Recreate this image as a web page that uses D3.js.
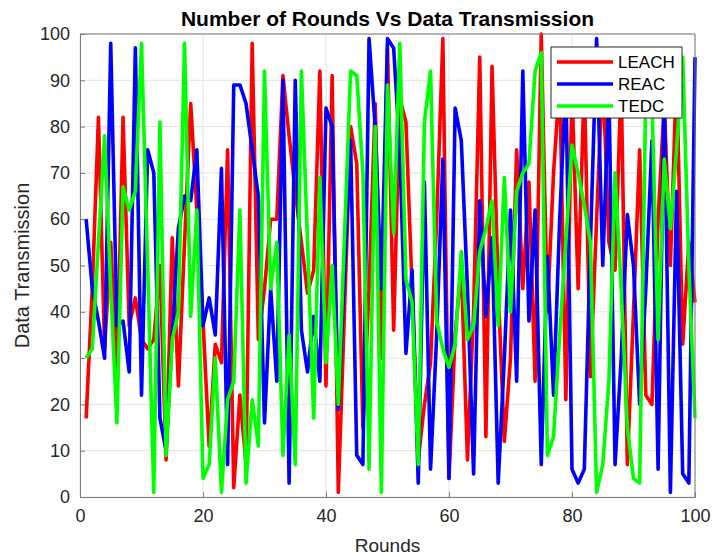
<!DOCTYPE html>
<html>
<head>
<meta charset="utf-8">
<script src="https://cdn.jsdelivr.net/npm/d3@7"></script>
<style>
  html, body { margin: 0; padding: 0; background: #fff; }
  svg { display: block; font-family: Arial, "Liberation Sans", sans-serif; }
</style>
</head>
<body>
<svg id="chart" width="713" height="556"></svg>
<script>
// values, one per round (rounds 1..100)
const leach = [17, 45, 82, 32, 55, 25, 82, 37, 43, 34, 32, 34, 50, 8, 56, 24, 55, 85, 62, 38,
  11, 33, 29, 75, 2, 22, 7, 98, 34, 45, 60, 60, 91, 78, 66, 55, 44, 49, 92, 24,
  91, 1, 40, 80, 72, 15, 45, 85, 30, 97, 36, 86, 81, 45, 8, 20, 29, 60, 99, 4,
  35, 50, 8, 40, 95, 13, 93, 45, 12, 30, 75, 45, 68, 25, 100, 40, 70, 90, 21, 88,
  45, 90, 26, 60, 92, 55, 49, 90, 7, 40, 75, 22, 20, 60, 85, 50, 92, 33, 55, 42];

const reac = [60, 45, 38, 30, 98, 37, 38, 27, 97, 22, 75, 70, 17, 10, 35, 58, 65, 64, 75, 37,
  43, 35, 71, 7, 89, 89, 85, 75, 65, 16, 45, 25, 90, 3, 90, 36, 27, 39, 25, 84,
  80, 19, 48, 77, 9, 7, 99, 80, 45, 99, 97, 75, 31, 49, 3, 68, 6, 35, 73, 4,
  84, 77, 45, 5, 64, 39, 56, 3, 30, 62, 25, 92, 38, 62, 7, 52, 22, 60, 90, 6,
  3, 6, 55, 99, 50, 88, 7, 30, 61, 50, 20, 45, 77, 6, 88, 1, 66, 5, 3, 95];

const tedc = [30, 32, 55, 78, 45, 16, 67, 62, 66, 98, 50, 1, 81, 9, 34, 40, 98, 39, 62, 4,
  7, 30, 1, 21, 25, 62, 3, 21, 11, 92, 45, 55, 9, 35, 7, 92, 55, 17, 69, 29,
  50, 20, 56, 92, 91, 70, 6, 80, 1, 89, 57, 98, 47, 42, 7, 81, 92, 38, 32, 28,
  33, 53, 34, 37, 53, 58, 64, 37, 69, 40, 66, 70, 72, 92, 96, 9, 13, 35, 55, 76,
  70, 63, 55, 1, 7, 25, 70, 45, 15, 4, 3, 88, 86, 34, 73, 58, 75, 95, 50, 17];

const seriesNames = ["LEACH", "REAC", "TEDC"];
const seriesColors = ["#ff0000", "#0000ff", "#00ff00"];
const xTicks = [0, 20, 40, 60, 80, 100];
const yTicks = [0, 10, 20, 30, 40, 50, 60, 70, 80, 90, 100];

const svg = d3.select("#chart");
const margin = { top: 34, right: 18, bottom: 59, left: 80 };
const width = +svg.attr("width") - margin.left - margin.right;
const height = +svg.attr("height") - margin.top - margin.bottom;

const x = d3.scaleLinear().domain([0, 100]).range([0, width]);
const y = d3.scaleLinear().domain([0, 100]).range([height, 0]);

const g = svg.append("g").attr("transform", `translate(${margin.left},${margin.top})`);

// grid
g.append("g")
  .selectAll("line")
  .data(xTicks)
  .join("line")
  .attr("x1", d => x(d)).attr("x2", d => x(d))
  .attr("y1", 0).attr("y2", height)
  .attr("stroke", "#e3e3e3").attr("stroke-width", 1);

g.append("g")
  .selectAll("line")
  .data(yTicks)
  .join("line")
  .attr("x1", 0).attr("x2", width)
  .attr("y1", d => y(d)).attr("y2", d => y(d))
  .attr("stroke", "#e3e3e3").attr("stroke-width", 1);

// lines
const line = d3.line()
  .x((d, i) => x(i + 1))
  .y(d => y(d));

[leach, reac, tedc].forEach((vals, k) => {
  g.append("path")
    .datum(vals)
    .attr("fill", "none")
    .attr("stroke", seriesColors[k])
    .attr("stroke-width", 3.6)
    .attr("stroke-linejoin", "round")
    .attr("d", line);
});

// axes
const xAxis = g.append("g")
  .attr("transform", `translate(0,${height})`)
  .call(d3.axisBottom(x).tickValues(xTicks).tickSize(-5).tickPadding(12));
const yAxis = g.append("g")
  .call(d3.axisLeft(y).tickValues(yTicks).tickSize(-5).tickPadding(10));

[xAxis, yAxis].forEach(a => {
  a.select(".domain").attr("stroke", "#7a7a7a");
  a.selectAll(".tick line").attr("stroke", "#7a7a7a");
  a.selectAll(".tick text")
    .attr("fill", "#262626")
    .attr("font-size", "18px")
    .attr("font-family", "Arial, 'Liberation Sans', sans-serif");
});

// box top/right
g.append("line").attr("x1", 0).attr("x2", width).attr("y1", 0).attr("y2", 0).attr("stroke", "#7a7a7a");
g.append("line").attr("x1", width).attr("x2", width).attr("y1", 0).attr("y2", height).attr("stroke", "#7a7a7a");

// title and labels
svg.append("text")
  .attr("x", margin.left + width / 2)
  .attr("y", 26)
  .attr("text-anchor", "middle")
  .attr("font-size", "21px")
  .attr("font-weight", "bold")
  .attr("fill", "#000")
  .text("Number of Rounds Vs Data Transmission");

svg.append("text")
  .attr("x", margin.left + width / 2)
  .attr("y", 552)
  .attr("text-anchor", "middle")
  .attr("font-size", "19px")
  .attr("fill", "#262626")
  .text("Rounds");

svg.append("text")
  .attr("transform", `translate(29,${margin.top + height / 2}) rotate(-90)`)
  .attr("text-anchor", "middle")
  .attr("font-size", "20px")
  .attr("fill", "#262626")
  .text("Data Transmission");

// legend
const legend = svg.append("g").attr("transform", "translate(551,47)");
legend.append("rect")
  .attr("width", 131).attr("height", 71)
  .attr("fill", "#fff").attr("stroke", "#262626").attr("stroke-width", 1);

const ly = d3.scalePoint().domain(seriesNames).range([15, 59]);
seriesNames.forEach((name, k) => {
  legend.append("line")
    .attr("x1", 6).attr("x2", 62)
    .attr("y1", ly(name)).attr("y2", ly(name))
    .attr("stroke", seriesColors[k]).attr("stroke-width", 3.6);
  legend.append("text")
    .attr("x", 67).attr("y", ly(name))
    .attr("dy", "0.36em")
    .attr("font-size", "17px")
    .attr("fill", "#000")
    .text(name);
});
</script>
</body>
</html>
